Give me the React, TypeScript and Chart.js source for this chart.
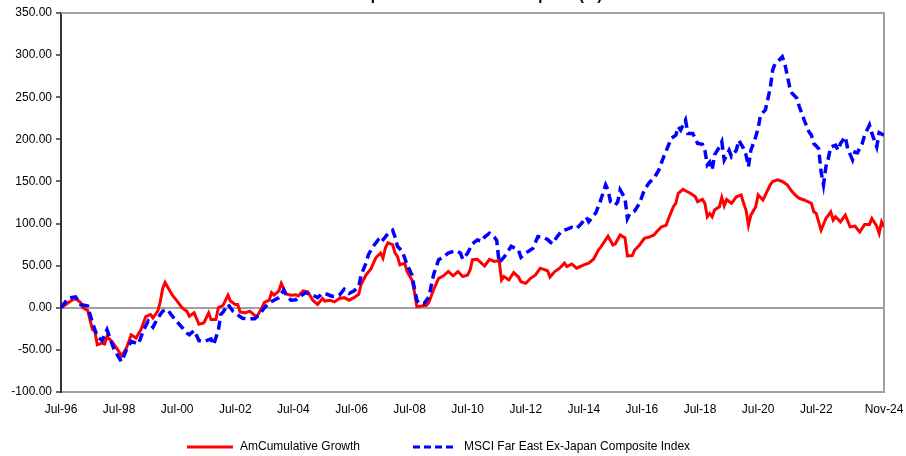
import React, { useEffect, useRef } from "react";
import { Chart, registerables } from "chart.js";

Chart.register(...registerables);

const TITLE = "Cumulative performance since inception (%)";
const seriesNames = ["AmCumulative Growth", "MSCI Far East Ex-Japan Composite Index"];
const seriesColors = ["#FF0000", "#0000FF"];

const xTickMonths = [0, 24, 48, 72, 96, 120, 144, 168, 192, 216, 240, 264, 288, 312, 340];
const xTickLabels = ["Jul-96", "Jul-98", "Jul-00", "Jul-02", "Jul-04", "Jul-06", "Jul-08", "Jul-10", "Jul-12", "Jul-14", "Jul-16", "Jul-18", "Jul-20", "Jul-22", "Nov-24"];

// months since Jul-96
const redMonths = [0,2,4,6,8,9,11,13,14,15,17,18,19,21,23,25,27,29,31,33,35,37,38,40,41,42,43,45,46,48,50,52,53,55,57,59,61,62,64,65,67,68,69,70,72,73,74,76,78,80,81,83,84,86,87,88,90,91,93,95,97,98,100,102,104,106,108,109,111,113,115,117,119,121,123,124,126,128,130,132,133,134,135,137,138,139,140,142,143,145,146,147,149,151,152,154,156,158,160,162,164,166,168,169,170,172,175,177,179,181,182,183,185,187,189,190,192,194,196,198,201,202,204,206,208,209,211,213,216,218,220,222,223,226,228,229,231,233,234,236,237,239,241,243,245,246,248,250,251,253,254,255,257,258,260,262,263,265,266,267,268,269,270,272,273,274,275,277,279,281,282,283,284,285,287,288,290,292,293,294,296,298,300,302,304,305,307,310,311,312,314,316,318,319,320,322,324,326,328,330,332,334,335,337,338,339,340];
const redValues = [0,4,8,11,6.5,0,-3,-26,-28,-44,-42,-43,-34,-40,-48,-57,-48,-32,-36,-26,-10.5,-8,-12,-4,7,23,30,20,15,8,0,-4,-10,-6,-19.6,-18,-6,-14,-14,0,3,9,15,8,4,4,-5,-6,-4,-9,-10,0,6.5,9,18,15,20,29,16.5,15,15.5,14,20,19,9,4,11,8,9,7,11,12,9,12,16,28,39,46,59,65,59,71,77,75,65,61,51,53,43,33,19,1.3,2,3,6.5,22,35,38,43,38,43,37,39,45,57,57.5,49.6,57.5,55,56,33,37,33,41.7,36.5,31,29,35,39,47,44,36.5,43,47,53,49,52,47,51,53,57.6,68.6,72,85,74.6,76,86.5,83,61.5,62,68.6,74.6,82.5,84,86.5,90,96,98,106,120,124,136,140.7,139,136,132,126,128.6,124,108,112,108,116,120,131,121,128.6,124,131.7,134,124,116,98,110,120,134,128,140,146,150,151.8,150,146,138,132,130,128,124,114,112,92,106,114,104,108,102,110,96,97,90,99,99,106,97,88.5,102,96];

const blueMonths = [0,3,6,8,11,13,15,17,19,20,22,25,27,29,32,34,36,38,40,42,44,46,49,52,53,55,57,59,62,63,65,66,67,69,71,73,75,77,80,82,84,86,88,90,92,93,95,97,99,101,104,106,108,110,112,115,117,119,121,123,124,126,127,129,131,132,134,135,137,138,139,141,142,143,145,146,147,148,150,152,153,154,156,158,160,163,165,166,168,170,172,174,175,177,179,180,181,183,185,186,189,190,192,195,197,199,201,203,205,207,209,211,213,215,217,218,221,223,225,226,227,229,230,231,233,234,235,237,239,241,243,245,247,249,251,252,254,255,256,258,259,261,263,265,266,267,268,269,270,272,273,274,276,277,279,280,282,283,284,285,287,288,289,291,293,294,295,296,298,299,300,301,302,304,305,307,309,310,311,313,314,315,316,317,318,320,321,322,324,325,327,328,329,331,332,334,335,337,338,340];
const blueValues = [0,11.5,13,4,2,-18,-34,-39,-26,-34,-50,-64,-50,-40,-43,-27,-16,-23,-12,-4,-2,-10,-20,-30,-32,-27,-39,-40,-37,-44,-27,-8,-5,4,-4,-8.5,-12.5,-13,-13,-8,0,6,9,12,21,15,9,9.5,14,18,15,12,17,16,13.5,15,22,17,20,25,39,53,63,73,80.5,77,84,88,92,84,73,67,59,51,39,23,9,5,5,13,27,40,57,60,65,68,65,57.6,65,76,80.5,79,84,88.5,84,80,53.6,60,68.6,73,68.6,60,65,70.6,84.5,84,81,76,84.5,91.6,93,95.6,94,100,107.5,102,113,128,146,140,126,122,126,140,130,106,112,115,124,140,148.6,154,163.7,179.5,193,201,205,215,211,223,207,207,195,194,187,169.6,173,163.7,181.5,191,197,175.5,187,179.5,187,199,189,181.5,167.5,187,203,213,229,235,260.7,282,290,292,298,290,276.5,262.6,254.7,248.8,239,223,209,205,195,189,161.6,146,167.5,177.5,191,193,187,195,203,189,175.5,185,184,195,205,217,207,191,208,205];

const FONT = "'Liberation Sans', Arial, Helvetica, sans-serif";

const framePlugin = {
  id: "frame",
  beforeDatasetsDraw(chart: any) {
    const { ctx, chartArea } = chart;
    ctx.save();
    ctx.strokeStyle = "#a0a0a0";
    ctx.lineWidth = 2;
    ctx.beginPath();
    ctx.moveTo(chartArea.left, chartArea.top);
    ctx.lineTo(chartArea.right, chartArea.top);
    ctx.lineTo(chartArea.right, chartArea.bottom);
    ctx.stroke();
    ctx.restore();
  },
};

const titlePlugin = {
  id: "cutTitle",
  afterDraw(chart: any) {
    const { ctx } = chart;
    ctx.save();
    ctx.font = `bold 15px ${FONT}`;
    ctx.fillStyle = "#000";
    ctx.textAlign = "center";
    ctx.textBaseline = "alphabetic";
    ctx.fillText(TITLE, 444, 0);
    ctx.restore();
  },
};

const legendPlugin = {
  id: "customLegend",
  afterDraw(chart: any) {
    const { ctx } = chart;
    const y = 447;
    const items = [
      { x: 187, w: 46, dash: [] as number[] },
      { x: 413, w: 44, dash: [7, 4] },
    ];
    ctx.save();
    ctx.font = `12px ${FONT}`;
    ctx.textBaseline = "middle";
    ctx.textAlign = "left";
    items.forEach((it, i) => {
      ctx.strokeStyle = seriesColors[i];
      ctx.lineWidth = 3;
      ctx.setLineDash(it.dash);
      ctx.beginPath();
      ctx.moveTo(it.x, y);
      ctx.lineTo(it.x + it.w, y);
      ctx.stroke();
      ctx.setLineDash([]);
      ctx.fillStyle = "#000";
      ctx.fillText(seriesNames[i], it.x + it.w + 7, y);
    });
    ctx.restore();
  },
};

export default function App() {
  const ref = useRef<HTMLCanvasElement | null>(null);

  useEffect(() => {
    if (!ref.current) return;
    const red = redMonths.map((m, i) => ({ x: m, y: redValues[i] }));
    const blue = blueMonths.map((m, i) => ({ x: m, y: blueValues[i] }));
    const chart = new Chart(ref.current, {
      type: "line",
      data: {
        datasets: [
          {
            label: seriesNames[0],
            data: red,
            borderColor: seriesColors[0],
            backgroundColor: seriesColors[0],
            borderWidth: 3,
            pointRadius: 0,
            tension: 0,
            order: 2,
          },
          {
            label: seriesNames[1],
            data: blue,
            borderColor: seriesColors[1],
            backgroundColor: seriesColors[1],
            borderWidth: 3.5,
            borderDash: [9, 5],
            pointRadius: 0,
            tension: 0,
            order: 1,
          },
        ],
      },
      options: {
        animation: false,
        responsive: false,
        devicePixelRatio: 1,
        layout: { padding: { top: 13, right: 22, bottom: 34, left: 0 } },
        plugins: {
          legend: { display: false },
          title: { display: false },
          tooltip: { enabled: false },
        },
        scales: {
          x: {
            type: "linear",
            min: 0,
            max: 340,
            afterFit: (s: any) => {
              s.height = 30;
              s.paddingLeft = 0;
              s.paddingRight = 0;
            },
            afterBuildTicks: (s: any) => {
              s.ticks = xTickMonths.map((v) => ({ value: v }));
            },
            grid: { display: false, drawTicks: false },
            border: { display: true, color: "#a0a0a0", width: 2 },
            ticks: {
              autoSkip: false,
              maxRotation: 0,
              padding: 10,
              color: "#000",
              font: { family: FONT, size: 12 },
              callback: (v: any) => {
                const i = xTickMonths.indexOf(Number(v));
                return i >= 0 ? xTickLabels[i] : "";
              },
            },
          },
          y: {
            min: -100,
            max: 350,
            afterFit: (s: any) => {
              s.width = 61;
              s.paddingTop = 0;
              s.paddingBottom = 0;
            },
            grid: {
              drawOnChartArea: true,
              drawTicks: true,
              tickLength: 5,
              tickColor: "#333",
              tickWidth: 1.5,
              lineWidth: 2,
              color: (c: any) => (c.tick && c.tick.value === 0 ? "#a0a0a0" : "rgba(0,0,0,0)"),
            },
            border: { display: true, color: "#333", width: 2 },
            ticks: {
              stepSize: 50,
              padding: 4,
              color: "#000",
              font: { family: FONT, size: 12 },
              callback: (v: any) => Number(v).toFixed(2),
            },
          },
        },
      },
      plugins: [framePlugin, titlePlugin, legendPlugin],
    });
    return () => chart.destroy();
  }, []);

  return (
    <div style={{ position: "fixed", left: 0, top: 0, width: 906, height: 456, background: "#fff" }}>
      <canvas ref={ref} width={906} height={456} style={{ display: "block", width: 906, height: 456 }} />
    </div>
  );
}
